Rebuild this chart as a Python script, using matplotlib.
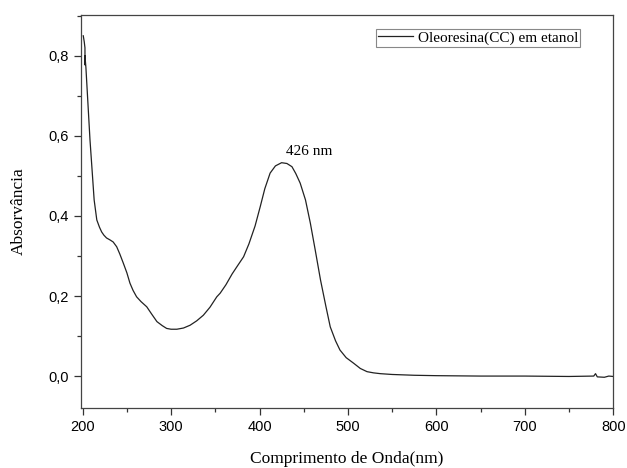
import matplotlib
matplotlib.use("Agg")
import matplotlib.pyplot as plt
from matplotlib.ticker import FuncFormatter, MultipleLocator

# spectrum (wavelength in nm, absorbance)
wavelength = [200.7, 201.8, 202.6, 202.7, 202.6, 203.7, 206, 208.3, 210.5, 213, 216, 219, 221.5,
              224, 227, 231, 234.5, 238.5, 242, 246, 250, 253.5, 257, 261, 266, 272.5, 278,
              284, 290, 295, 300, 306.5, 314, 321.5, 329, 336.5, 344, 351.7, 355.5, 362, 369,
              375, 382, 388, 395, 400.8, 406, 412, 418, 425, 431, 436.7, 441, 446, 452,
              457.5, 463, 469, 475, 480, 486, 491, 498, 506.5, 514, 521.6, 529, 536.7, 550,
              575, 600, 650, 700, 750, 778, 780, 782, 790, 795, 800]
absorbance = [0.85, 0.835, 0.82, 0.777, 0.80, 0.77, 0.68, 0.59, 0.52, 0.44, 0.39, 0.372, 0.36,
              0.352, 0.345, 0.34, 0.335, 0.323, 0.305, 0.282, 0.258, 0.232, 0.214, 0.198, 0.186, 0.173, 0.155,
              0.136, 0.126, 0.119, 0.117, 0.117, 0.12, 0.127, 0.138, 0.152, 0.172, 0.198, 0.207, 0.228, 0.255,
              0.275, 0.298, 0.33, 0.375, 0.423, 0.468, 0.507, 0.525, 0.533, 0.531, 0.523, 0.506, 0.482, 0.44,
              0.382, 0.315, 0.24, 0.175, 0.123, 0.088, 0.065, 0.046, 0.032, 0.019, 0.011, 0.008, 0.006, 0.004,
              0.002, 0.001, 0.0, 0.0, -0.001, 0.0, 0.006, -0.002, -0.003, 0.0, -0.001]

peak_label = "426 nm"
series_label = "Oleoresina(CC) em etanol"

fig = plt.figure(figsize=(6.27, 4.68), dpi=100)
ax = fig.add_axes([0.129, 0.128, 0.849, 0.840])

ax.plot(wavelength, absorbance, color="#222222", lw=0.9, label=series_label)

ax.set_xlim(198, 800)
ax.set_ylim(-0.08, 0.902)
ax.xaxis.set_major_locator(MultipleLocator(100))
ax.xaxis.set_minor_locator(MultipleLocator(50))
ax.yaxis.set_major_locator(MultipleLocator(0.2))
ax.yaxis.set_minor_locator(MultipleLocator(0.1))
ax.yaxis.set_major_formatter(FuncFormatter(lambda v, p: ("%.1f" % v).replace(".", ",")))

ax.tick_params(which="major", direction="out", length=5, width=0.9, color="#333333",
               labelsize=10.5, top=False, right=False)
ax.tick_params(which="minor", direction="out", length=3, width=0.9, color="#333333",
               top=False, right=False)
for lab in ax.get_xticklabels() + ax.get_yticklabels():
    lab.set_family("Liberation Sans")
for sp in ax.spines.values():
    sp.set_color("#444444")
    sp.set_linewidth(0.9)

ax.set_xlabel("Comprimento de Onda(nm)", family="Liberation Serif", fontsize=12.5, labelpad=12)
ax.set_ylabel("Absorvância", family="Liberation Serif", fontsize=12.5, labelpad=16)

ax.text(430, 0.56, peak_label, family="Liberation Serif", fontsize=11, ha="left", va="center")

leg = ax.legend(loc="upper right", bbox_to_anchor=(0.938, 0.964),
                prop={"family": "Liberation Serif", "size": 11},
                fancybox=False, framealpha=1, edgecolor="#888888", handlelength=2.3,
                handletextpad=0.3, borderpad=0.12, borderaxespad=0)
leg.get_frame().set_linewidth(0.8)

fig.savefig("out.png", dpi=100, facecolor="white")
